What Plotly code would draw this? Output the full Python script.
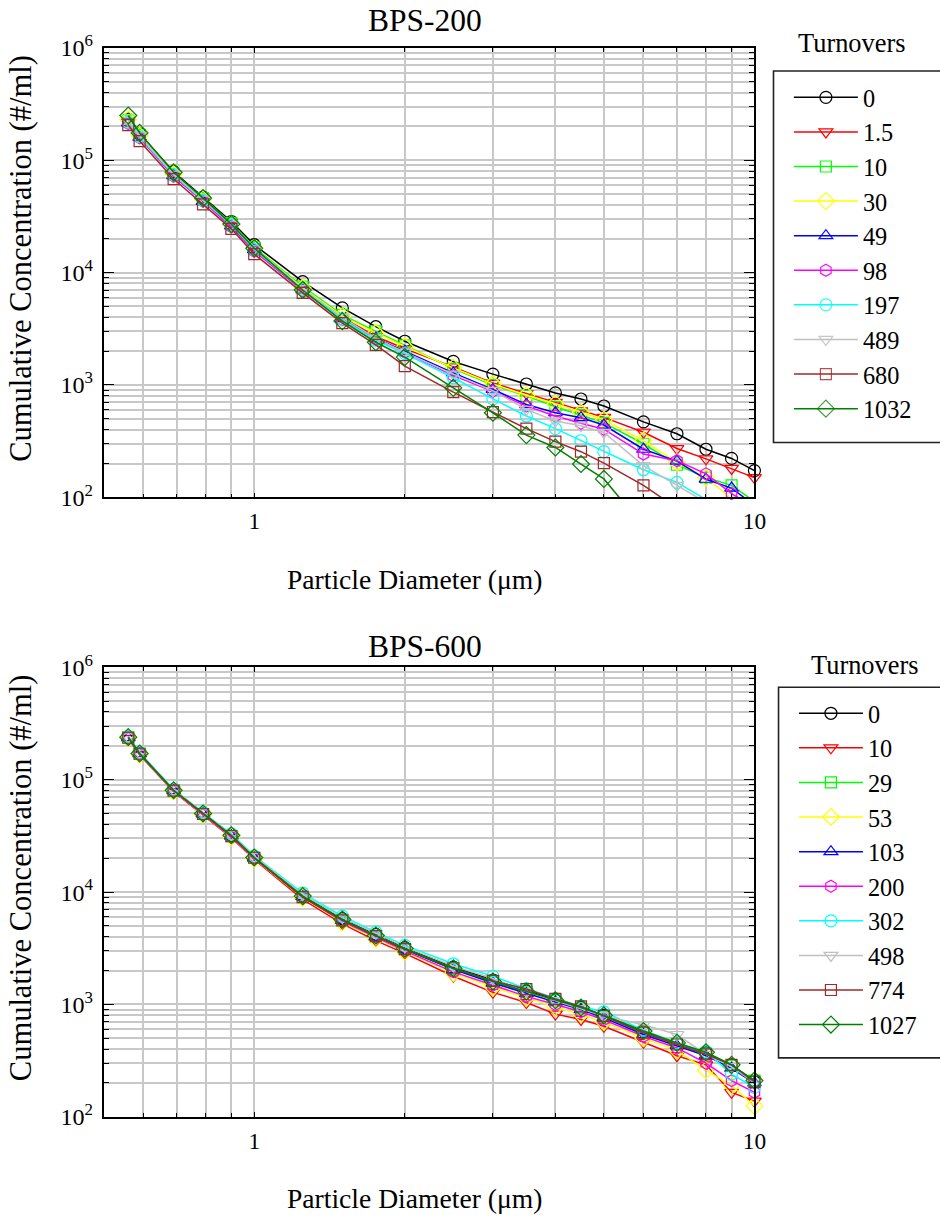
import math
import plotly.graph_objects as go

W, H = 940, 1218
FONT = "Liberation Serif"

# Particle size channels (µm)
diameter_um = [0.56, 0.59, 0.69, 0.79, 0.90, 1.0, 1.25, 1.5, 1.75, 2.0,
               2.5, 3.0, 3.5, 4.0, 4.5, 5.0, 6.0, 7.0, 8.0, 9.0, 10.0]

# ---- BPS-200: cumulative concentration (#/ml) per turnover count ----
bps200_labels = ["0", "1.5", "10", "30", "49", "98", "197", "489", "680", "1032"]
bps200_0 = [232e3, 172e3, 79e3, 47e3, 28.5e3, 17.7e3, 8.3e3, 4.85e3, 3.3e3, 2.45e3,
            1620, 1250, 1020, 850, 750, 650, 470, 368, 268, 222, 173]
bps200_1_5 = [220e3, 165e3, 74e3, 44e3, 26.5e3, 16.2e3, 7.2e3, 4.0e3, 2.7e3, 2.1e3,
              1450, 1040, 840, 700, 590, 515, 380, 272, 220, 181, 150]
bps200_10 = [225e3, 168e3, 76e3, 46e3, 27.5e3, 16.8e3, 7.5e3, 4.2e3, 3.0e3, 2.25e3,
             1400, 1000, 800, 640, 540, 460, 300, 195, 150, 128, 92]
bps200_30 = [230e3, 165e3, 75e3, 45e3, 27e3, 16.5e3, 7.3e3, 4.1e3, 2.9e3, 2.2e3,
             1420, 1020, 810, 680, 570, 490, 320, 205, 150, 98, 75]
bps200_49 = [215e3, 160e3, 73e3, 43e3, 26e3, 16e3, 7.0e3, 3.9e3, 2.6e3, 2.0e3,
             1280, 912, 670, 566, 512, 440, 268, 210, 145, 121, 85]
bps200_98 = [212e3, 158e3, 72e3, 43e3, 25.5e3, 15.5e3, 6.9e3, 3.8e3, 2.55e3, 1.95e3,
             1210, 880, 648, 530, 457, 404, 243, 212, 162, 108, 82]
bps200_197 = [218e3, 162e3, 74e3, 44e3, 26.5e3, 16e3, 7.1e3, 3.85e3, 2.5e3, 1.9e3,
              1160, 753, 530, 409, 319, 255, 176, 136, 95, 70, 55]
bps200_489 = [225e3, 165e3, 75e3, 45e3, 27e3, 16.3e3, 7.2e3, 4.0e3, 2.6e3, 1.95e3,
              1250, 890, 607, 479, 433, 378, 192, 128, 90, 65, 50]
bps200_680 = [205e3, 148e3, 68e3, 40.5e3, 24.5e3, 14.6e3, 6.6e3, 3.55e3, 2.27e3, 1.47e3,
              863, 574, 409, 313, 255, 202, 128, 80, 55, 40, 30]
bps200_1032 = [250e3, 175e3, 78e3, 46e3, 27e3, 16.5e3, 7.0e3, 3.7e3, 2.4e3, 1.77e3,
               942, 566, 358, 278, 198, 146, 55, 30, 20, 15, 10]
bps200_series = [bps200_0, bps200_1_5, bps200_10, bps200_30, bps200_49,
                 bps200_98, bps200_197, bps200_489, bps200_680, bps200_1032]

# ---- BPS-600 ----
bps600_labels = ["0", "10", "29", "53", "103", "200", "302", "498", "774", "1027"]
bps600_0 = [240e3, 172e3, 81e3, 50e3, 32e3, 20.5e3, 9.3e3, 5.8e3, 4.2e3, 3.2e3,
            2150, 1650, 1320, 1100, 940, 800, 570, 450, 370, 290, 205]
bps600_10 = [232e3, 166e3, 78e3, 48e3, 30.5e3, 19.5e3, 8.6e3, 5.2e3, 3.7e3, 2.85e3,
             1780, 1280, 1040, 820, 735, 640, 460, 350, 290, 165, 138]
bps600_29 = [238e3, 170e3, 80e3, 49.5e3, 31.5e3, 20.2e3, 9.1e3, 5.6e3, 4.05e3, 3.1e3,
             2050, 1580, 1280, 1080, 920, 780, 560, 445, 365, 285, 210]
bps600_53 = [235e3, 168e3, 79e3, 49e3, 31e3, 19.8e3, 8.9e3, 5.4e3, 3.85e3, 2.95e3,
             1900, 1420, 1150, 950, 820, 700, 500, 390, 260, 190, 125]
bps600_103 = [237e3, 170e3, 80e3, 49.5e3, 31.5e3, 20e3, 9.1e3, 5.6e3, 4.0e3, 3.1e3,
              2050, 1550, 1250, 1050, 900, 760, 540, 430, 350, 270, 200]
bps600_200 = [236e3, 169e3, 79.5e3, 49e3, 31e3, 20e3, 9.0e3, 5.5e3, 3.95e3, 3.0e3,
              1950, 1480, 1180, 1000, 860, 730, 520, 410, 300, 210, 165]
bps600_302 = [242e3, 174e3, 82e3, 51e3, 33e3, 21e3, 9.8e3, 6.1e3, 4.4e3, 3.35e3,
              2300, 1780, 1380, 1130, 960, 860, 590, 455, 380, 240, 183]
bps600_498 = [240e3, 172e3, 81e3, 50.5e3, 32.5e3, 20.8e3, 9.5e3, 5.9e3, 4.3e3, 3.25e3,
              2200, 1700, 1300, 1080, 920, 790, 660, 540, 360, 280, 200]
bps600_774 = [236e3, 170e3, 80e3, 49.5e3, 31.5e3, 20.2e3, 9.0e3, 5.6e3, 4.05e3, 3.1e3,
              2100, 1620, 1370, 1120, 960, 790, 560, 440, 360, 290, 205]
bps600_1027 = [239e3, 171e3, 80.5e3, 50e3, 32e3, 20.3e3, 9.2e3, 5.7e3, 4.1e3, 3.15e3,
               2100, 1600, 1300, 1090, 940, 800, 580, 455, 375, 290, 210]
bps600_series = [bps600_0, bps600_10, bps600_29, bps600_53, bps600_103,
                 bps600_200, bps600_302, bps600_498, bps600_774, bps600_1027]

colors = ["#000000", "#ff0000", "#00ff00", "#ffff00", "#0000ff",
          "#ff00ff", "#00ffff", "#c0c0c0", "#a0282a", "#008000"]
symbols = ["circle-open", "triangle-down-open", "square-open", "diamond-open",
           "triangle-up-open", "hexagon-open", "circle-open", "triangle-down-open",
           "square-open", "diamond-open"]
sizes = [12, 12, 11, 13, 12, 12, 12, 12, 11, 13]

Y_MIN_EXP, Y_MAX_EXP = 2, 6
X_MIN = 0.5


def px(x):
    return x / W


def py(y):
    return 1 - y / H


fig = go.Figure()


def add_panel(series, labels, xaxis, yaxis, legend):
    for vals, name, col, sym, sz in zip(series, labels, colors, symbols, sizes):
        # hide markers that fall below the lower axis limit; lines still run to the edge
        opac = [1 if v >= 10 ** Y_MIN_EXP else 0 for v in vals]
        fig.add_trace(go.Scatter(
            x=diameter_um, y=vals, name=name, mode="lines+markers",
            xaxis=xaxis, yaxis=yaxis, legend=legend, cliponaxis=False,
            line=dict(color=col, width=1.5),
            marker=dict(symbol=sym, size=sz, color=col, opacity=opac,
                        line=dict(color=col, width=1.2)),
        ))


add_panel(bps200_series, bps200_labels, "x", "y", "legend")
add_panel(bps600_series, bps600_labels, "x2", "y2", "legend2")

GRID = "#c8c8c8"

# plot-area edges in px
PLOT_L, PLOT_R = 105.0, 764.2
TOP_T, TOP_B = 31.6, 492.5
BOT_T, BOT_B = 666.7, 1127.6


def xaxis_cfg(dom_anchor):
    return dict(
        type="log", range=[math.log10(X_MIN), 1], domain=[px(PLOT_L), px(PLOT_R)],
        anchor=dom_anchor, dtick=1, exponentformat="none",
        showline=True, linecolor="black", linewidth=1.5, mirror="ticks",
        ticks="inside", ticklen=5, tickwidth=1.2, tickcolor="black",
        showgrid=True, gridcolor=GRID, gridwidth=1.5, zeroline=False,
        tickfont=dict(family=FONT, size=23.4, color="black"),
        ticklabelstandoff=2,
        minor=dict(dtick="D1", ticks="inside", ticklen=4, tickwidth=1.2,
                   tickcolor="black", showgrid=True, gridcolor=GRID, gridwidth=1.5),
    )


def yaxis_cfg(top, bottom, dom_anchor):
    return dict(
        type="log", range=[Y_MIN_EXP, Y_MAX_EXP], domain=[py(bottom), py(top)],
        anchor=dom_anchor, dtick=1, exponentformat="power",
        showline=True, linecolor="black", linewidth=1.5, mirror="ticks",
        ticks="inside", ticklen=11, tickwidth=1.2, tickcolor="black",
        showgrid=True, gridcolor=GRID, gridwidth=1.5, zeroline=False,
        tickfont=dict(family=FONT, size=19.3, color="black"),
        ticklabelstandoff=5,
        minor=dict(dtick="D1", ticks="inside", ticklen=6, tickwidth=1.2,
                   tickcolor="black", showgrid=True, gridcolor=GRID, gridwidth=1.5),
    )


legend_style = dict(xanchor="left", yanchor="top",
                    font=dict(family=FONT, size=24.3, color="black"),
                    bgcolor="rgba(0,0,0,0)", borderwidth=0, itemwidth=64)

fig.update_layout(
    width=W, height=H,
    margin=dict(l=0, r=0, t=0, b=0),
    paper_bgcolor="white", plot_bgcolor="white",
    font=dict(family=FONT, color="black"),
    xaxis=xaxis_cfg("y"),
    yaxis=yaxis_cfg(TOP_T, TOP_B, "x"),
    xaxis2=xaxis_cfg("y2"),
    yaxis2=yaxis_cfg(BOT_T, BOT_B, "x2"),
    legend=dict(x=px(799.1), y=py(59.5), **legend_style),
    legend2=dict(x=px(804.2), y=py(691.0), **legend_style),
    showlegend=True,
)

# legend frames (they run off the right edge of the page)
fig.add_shape(type="rect", xref="paper", yref="paper",
              x0=px(783.5), x1=px(970), y0=py(436.2), y1=py(55.3),
              line=dict(color="#222222", width=1.6))
fig.add_shape(type="rect", xref="paper", yref="paper",
              x0=px(788.6), x1=px(970), y0=py(1067.2), y1=py(687.1),
              line=dict(color="#222222", width=1.6))


def label(text, x, y, size, angle=0):
    fig.add_annotation(text=text, x=px(x), y=py(y), xref="paper", yref="paper",
                       xanchor="center", yanchor="middle", showarrow=False,
                       textangle=angle, font=dict(family=FONT, size=size, color="black"))


# panel titles, axis titles, legend headings
label("BPS-200", 430.6, 3.1, 31.5)
label("BPS-600", 430.6, 645.1, 31.5)
label("Particle Diameter (\u03bcm)", 419.7, 576.9, 27.6)
label("Particle Diameter (\u03bcm)", 419.7, 1211.7, 27.6)
label("Cumulative Concentration (#/ml)", 21.3, 247.8, 30.5, -90)
label("Cumulative Concentration (#/ml)", 21.3, 882.9, 30.5, -90)
label("Turnovers", 863.3, 26.9, 26.4)
label("Turnovers", 876.5, 664.4, 26.4)

fig.write_html("out.html")
